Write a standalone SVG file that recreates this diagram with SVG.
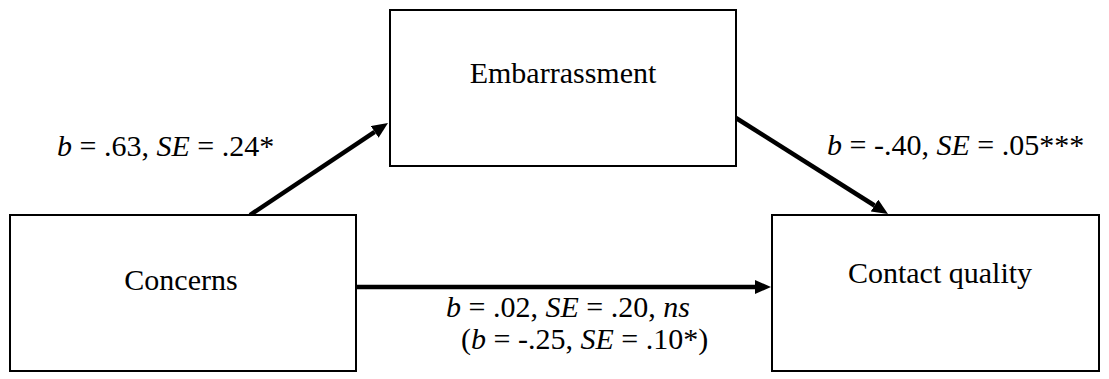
<svg xmlns="http://www.w3.org/2000/svg" width="1109" height="379" viewBox="0 0 1109 379">
<style>
  .box{fill:#fff;stroke:#000;stroke-width:2}
  .lbl{font-family:"Liberation Serif","Times New Roman",serif;font-size:30px;fill:#000}
  .conn{stroke:#000;stroke-width:4.5;fill:none}
  .it{font-style:italic}
</style>
<defs>
  <marker id="ah" markerWidth="16" markerHeight="14" refX="0" refY="7" orient="auto" markerUnits="userSpaceOnUse">
    <path d="M0,0 L16,7 L0,14 Z" fill="#000"/>
  </marker>
</defs>
<rect width="1109" height="379" fill="#fff"/>
<g id="connectors">
  <line class="conn" x1="250" y1="215" x2="374.7" y2="131.9" marker-end="url(#ah)"/>
  <line class="conn" x1="736" y1="118" x2="874.5" y2="205.5" marker-end="url(#ah)"/>
  <line class="conn" x1="356" y1="287" x2="755" y2="287" marker-end="url(#ah)"/>
</g>
<g id="node-embarrassment">
  <rect class="box" x="390" y="10" width="346" height="156"/>
  <text class="lbl" x="563" y="83" text-anchor="middle">Embarrassment</text>
</g>
<g id="node-concerns">
  <rect class="box" x="10" y="215" width="346" height="156"/>
  <text class="lbl" x="181" y="290" text-anchor="middle">Concerns</text>
</g>
<g id="node-contact">
  <rect class="box" x="772" y="215" width="327" height="156"/>
  <text class="lbl" x="940" y="283" text-anchor="middle">Contact quality</text>
</g>
<g id="labels">
  <text class="lbl" x="57" y="156"><tspan class="it">b</tspan> = .63, <tspan class="it">SE</tspan> = .24*</text>
  <text class="lbl" x="827" y="155"><tspan class="it">b</tspan> = -.40, <tspan class="it">SE</tspan> = .05***</text>
  <text class="lbl" x="446" y="317"><tspan class="it">b</tspan> = .02, <tspan class="it">SE</tspan> = .20, <tspan class="it">ns</tspan></text>
  <text class="lbl" x="461" y="349">(<tspan class="it">b</tspan> = -.25, <tspan class="it">SE</tspan> = .10*)</text>
</g>
</svg>
